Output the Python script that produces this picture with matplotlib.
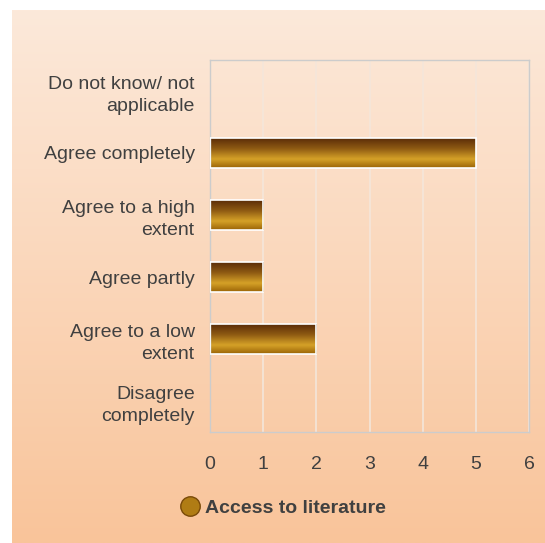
import numpy as np
import matplotlib.pyplot as plt
from matplotlib.colors import LinearSegmentedColormap
from matplotlib.lines import Line2D

categories = ["Do not know/ not\napplicable", "Agree completely", "Agree to a high\nextent",
              "Agree partly", "Agree to a low\nextent", "Disagree\ncompletely"]
values = [0, 5, 1, 1, 2, 0]
series_name = "Access to literature"
xticks = [0, 1, 2, 3, 4, 5, 6]

plt.rcParams['font.family'] = ['Liberation Sans', 'DejaVu Sans']
txt = "#404040"

fig = plt.figure(figsize=(5.45, 5.43), dpi=100)

# background gradient panel
bg = fig.add_axes([12 / 545, 0, 1 - 12 / 545, 1 - 10 / 543], zorder=-10)
bg_cmap = LinearSegmentedColormap.from_list("bg", ["#FCE9DA", "#F9C49A"])
bg.imshow(np.linspace(0, 1, 256).reshape(-1, 1), cmap=bg_cmap, aspect="auto",
          extent=[0, 1, 0, 1])
bg.axis("off")

ax = fig.add_axes([210 / 545, 1 - 432 / 543, 319 / 545, 372 / 543])
ax.patch.set_alpha(0)

y = np.arange(len(categories))
bar_h = 0.48
bar_cmap = LinearSegmentedColormap.from_list(
    "bar", [(0, "#5A2C08"), (0.35, "#8E5A12"), (0.7, "#D6A228"), (1, "#9A6406")])
grad = np.linspace(0, 1, 256).reshape(-1, 1)
for yi, v in zip(y, values):
    if v == 0:
        continue
    b = ax.barh(yi, v, height=bar_h, color="none", edgecolor="white", linewidth=1.2, zorder=3)[0]
    yc = b.get_y()
    im = ax.imshow(grad, cmap=bar_cmap, aspect="auto", zorder=2,
                   extent=[0, v, yc + bar_h, yc], interpolation="bicubic")
    im.set_clip_path(b)

ax.set_xlim(0, 6)
ax.set_ylim(len(categories) - 0.5, -0.5)
ax.set_xticks(xticks)
ax.set_yticks(y)
ax.set_yticklabels(categories, fontsize=14, color=txt, linespacing=1.35,
                   multialignment="right")
ax.tick_params(axis="x", labelsize=14, labelcolor=txt, length=0, pad=17)
ax.tick_params(axis="y", length=0, pad=11)
ax.grid(axis="x", color="#F4E6DA", linewidth=1.2, zorder=0)
for s in ax.spines.values():
    s.set_color("#CCCCCC")
    s.set_linewidth(1)

handle = Line2D([], [], marker="o", linestyle="none", markersize=14,
                markerfacecolor="#B07C14", markeredgecolor="#7A4A08")
leg = fig.legend([handle], [series_name], loc="center", bbox_to_anchor=(282 / 545, 1 - 508 / 543),
                 frameon=False, handletextpad=0.2, handlelength=1.2,
                 prop={"weight": "bold", "size": 14})
for t in leg.get_texts():
    t.set_color(txt)

fig.savefig("out.png", dpi=100, facecolor="white")
